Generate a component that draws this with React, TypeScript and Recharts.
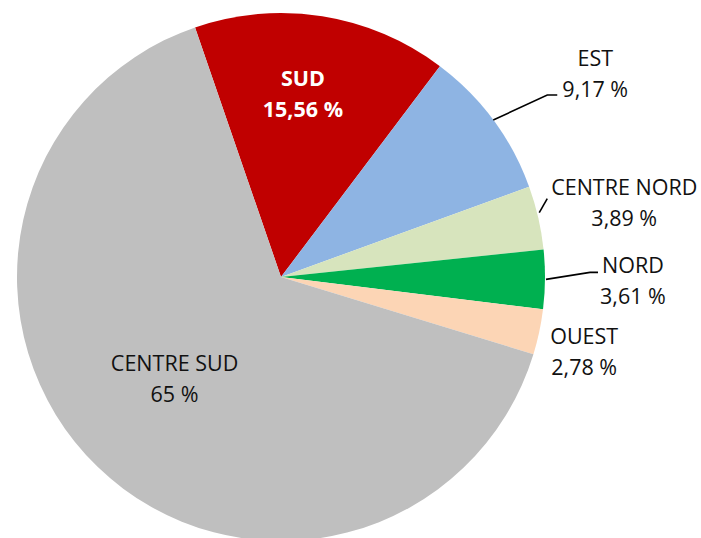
import { PieChart, Pie, Cell } from "recharts";

const regions = ["SUD", "EST", "CENTRE NORD", "NORD", "OUEST", "CENTRE SUD"];
const shares = [15.56, 9.17, 3.89, 3.61, 2.78, 65];
const colors = ["#C00000", "#8EB4E3", "#D7E4BD", "#00B050", "#FCD5B5", "#BFBFBF"];

const data = regions.map((name, i) => ({ name, value: shares[i] }));

const RADIAN = Math.PI / 180;
const FONT = "'Open Sans', sans-serif";
const LINE_GAP = 31;

// where each label sits: inside labels along the mid angle, outside ones offset from the rim
const labelPlacement: Record<string, any> = {
  SUD: { inside: true, r: 0.7, dx: -7, dy: -1, bold: true, color: "#ffffff" },
  "CENTRE SUD": { inside: true, r: 0.553, dx: -5, dy: -4 },
  EST: { dx: 102, dy: -47, leader: [[0, 0], [54, -25], [64, -25]] },
  "CENTRE NORD": { dx: 86, dy: -16, leader: [[1, -5], [9, -19]] },
  NORD: { dx: 88, dy: 1, leader: [[1, 0], [45, -7], [53, -7]] },
  OUEST: { dx: 45, dy: 19 },
};

const fmt = (v: number) =>
  Number.isInteger(v) ? `${v} %` : `${v.toFixed(2).replace(".", ",")} %`;

const renderLabel = (props: any) => {
  const { cx, cy, midAngle, outerRadius, name, value } = props;
  const p = labelPlacement[name];
  const cos = Math.cos(-midAngle * RADIAN);
  const sin = Math.sin(-midAngle * RADIAN);
  const r = p.inside ? outerRadius * p.r : outerRadius;
  const ax = cx + r * cos;
  const ay = cy + r * sin;
  const x = ax + p.dx;
  const y = ay + p.dy;
  const fill = p.color || "#111111";
  const textProps = {
    x,
    textAnchor: "middle" as const,
    dominantBaseline: "central" as const,
    fill,
    fontFamily: FONT,
    fontSize: 21.5,
    fontWeight: p.bold ? 700 : 400,
  };
  return (
    <g key={`lbl-${name}`}>
      {p.leader && (
        <polyline
          points={p.leader.map((pt: number[]) => `${ax + pt[0]},${ay + pt[1]}`).join(" ")}
          fill="none"
          stroke="#000"
          strokeWidth={1.6}
        />
      )}
      <text {...textProps} y={y - LINE_GAP / 2}>
        {name}
      </text>
      <text {...textProps} y={y + LINE_GAP / 2}>
        {fmt(value)}
      </text>
    </g>
  );
};

export default function App() {
  return (
    <div style={{ position: "absolute", left: 0, top: 0, width: 701, height: 538, background: "#fff" }}>
      <PieChart width={701} height={538} margin={{ top: 0, right: 0, bottom: 0, left: 0 }}>
        <Pie
          data={data}
          dataKey="value"
          nameKey="name"
          cx={281}
          cy={277}
          outerRadius={264}
          startAngle={109}
          endAngle={-251}
          stroke="none"
          label={renderLabel}
          labelLine={false}
          isAnimationActive={false}
        >
          {data.map((d, i) => (
            <Cell key={d.name} fill={colors[i]} />
          ))}
        </Pie>
      </PieChart>
    </div>
  );
}
